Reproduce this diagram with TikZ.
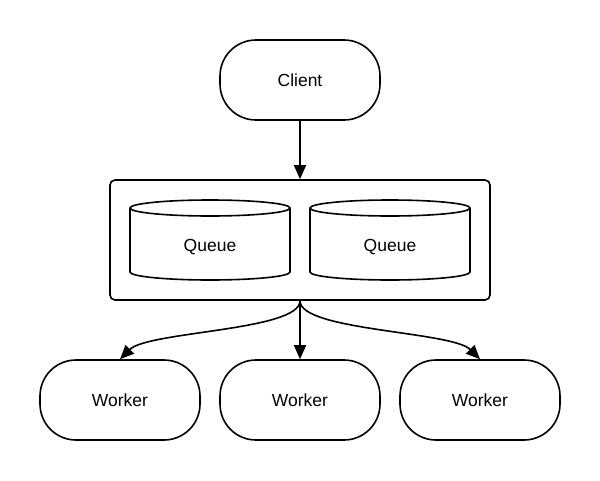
\documentclass[tikz,border=0pt]{standalone}
\usepackage{fontspec}
\setmainfont{Liberation Sans}
\usetikzlibrary{arrows.meta}
\tikzset{
  pill/.style={draw, line width=1.6pt, rounded corners=36pt, minimum width=160pt, minimum height=80pt, inner sep=0pt, font=\fontsize{17.5}{19}\selectfont},
  container/.style={draw, line width=1.6pt, rounded corners=5pt, minimum width=380pt, minimum height=120pt, inner sep=0pt},
  cyl/.style={line width=1.6pt},
  lbl/.style={font=\fontsize{17.5}{19}\selectfont, inner sep=0pt},
  arr/.style={line width=1.6pt, -{Triangle[length=14pt,width=12pt]}}
}
\begin{document}
\begin{tikzpicture}[x=1pt,y=-1pt]
\useasboundingbox (0,0) rectangle (600,480);
\node[pill] (client) at (300,80) {Client};
\node[container] (box) at (300,240) {};
% cylinders
\foreach \cx in {210,390}{
  \draw[cyl, fill=white] (\cx-80,208) -- (\cx-80,272) arc[start angle=180, end angle=360, x radius=80, y radius=-8] -- (\cx+80,208);
  \draw[cyl, fill=white] (\cx,208) ellipse[x radius=80, y radius=8];
}
\node[lbl] (q1) at (210,247) {Queue};
\node[lbl] (q2) at (390,247) {Queue};
\node[pill] (w1) at (120,400) {Worker};
\node[pill] (w2) at (300,400) {Worker};
\node[pill] (w3) at (480,400) {Worker};
\draw[arr] (client) -- (box);
\draw[arr] (box.south) .. controls +(0,30) and +(28,-28) .. (w1.north);
\draw[arr] (box.south) -- (w2.north);
\draw[arr] (box.south) .. controls +(0,30) and +(-28,-28) .. (w3.north);
\end{tikzpicture}
\end{document}
